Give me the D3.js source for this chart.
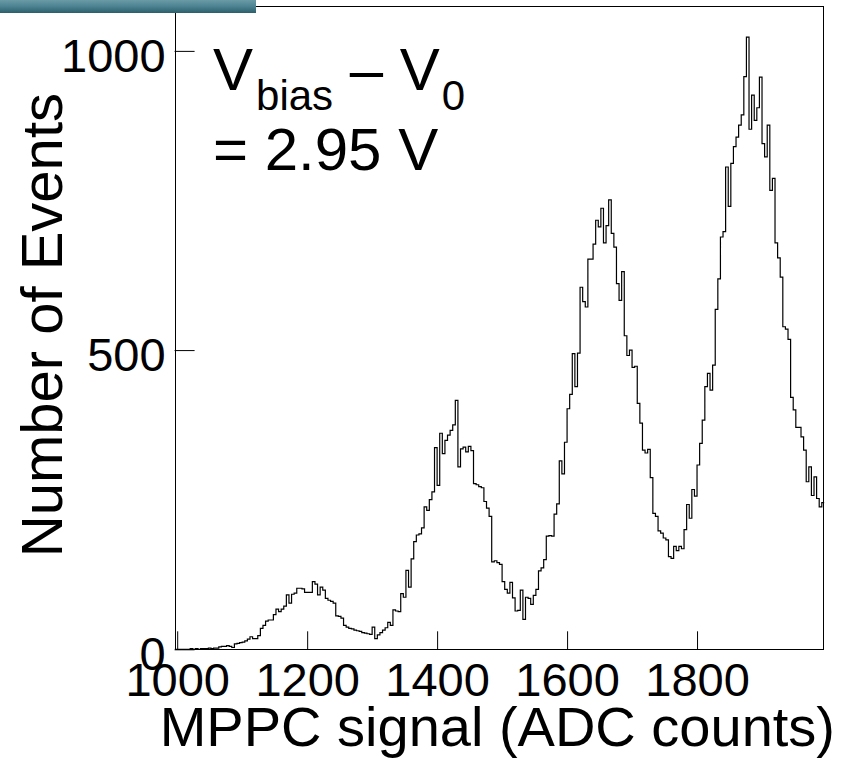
<!DOCTYPE html>
<html><head><meta charset="utf-8">
<script src="https://cdn.jsdelivr.net/npm/d3@7"></script>
<style>body{margin:0;background:#fff;} svg text{font-family:"Liberation Sans",Arial,Helvetica,sans-serif;fill:#000;}</style>
</head><body><svg id="c" width="851" height="769"></svg>
<script>
// ---- data ----
const binStart = 996;
const binWidth = 4;
const counts = [
  0,0,0,0,0,0,1,0,1,0, 1,1,1,2,1,2,2,4,5,5,
  6,5,3,9,10,11,12,14,17,21, 18,18,23,35,40,47,49,49,58,67,
  63,67,72,91,77,92,94,102,102,101, 95,95,95,113,109,91,104,99,85,82,
  80,77,56,55,52,40,37,35,34,32, 31,30,28,27,26,25,37,18,24,28,
  32,36,45,40,66,64,63,93,87,132, 104,151,180,191,193,203,238,232,250,263,
  337,274,361,327,349,358,366,375,416,305, 335,338,330,339,332,277,275,272,270,247,
  236,222,146,148,145,142,113,100,94,112, 86,64,65,99,50,87,85,75,90,100,
  131,136,150,189,190,189,226,243,315,293, 346,402,426,494,439,495,605,581,572,652,
  652,677,717,706,737,679,708,751,695,672, 611,583,631,524,491,500,471,473,411,378,
  333,328,334,287,227,222,198,194,186,183, 155,152,172,165,172,168,200,242,219,267,
  256,308,344,383,439,461,433,475,568,619, 689,698,806,740,812,840,856,876,893,957,
  1023,869,926,884,905,956,845,823,876,767, 787,679,654,622,539,535,518,421,400,371,
  371,355,333,280,305,257,288,252,238,245
];
const xTicks = [1000, 1200, 1400, 1600, 1800];
const yTicks = [0, 500, 1000];
const xDomain = [996, 1996];
const yDomain = [0, 1075];
const xTitle = "MPPC signal (ADC counts)";
const yTitle = "Number of Events";
const annVar = ["V", "bias", " \u2013 V", "0"];
const annValue = "= 2.95 V";

// ---- layout ----
const W = 851, H = 769;
const L = 174.6, R = 824.4, T = 6, B = 649.3;
const svg = d3.select("#c");
const x = d3.scaleLinear().domain(xDomain).range([L, R]);
const y = d3.scaleLinear().domain(yDomain).range([B, T]);

svg.append("rect").attr("width", W).attr("height", H).attr("fill", "#fff");

const defs = svg.append("defs");
defs.append("clipPath").attr("id", "clip").append("rect")
  .attr("x", L).attr("y", T).attr("width", R - L).attr("height", B - T);
const g = defs.append("linearGradient").attr("id", "bar").attr("x1", 0).attr("y1", 0).attr("x2", 0).attr("y2", 1);
g.append("stop").attr("offset", 0).attr("stop-color", "#6a9aa6");
g.append("stop").attr("offset", 0.45).attr("stop-color", "#4f8594");
g.append("stop").attr("offset", 1).attr("stop-color", "#2c5f6c");

// histogram
const pts = counts.map((c, i) => [binStart + i * binWidth, c]);
pts.push([binStart + counts.length * binWidth, counts[counts.length - 1]]);
const line = d3.line().x(d => x(d[0])).y(d => y(d[1])).curve(d3.curveStepAfter);
svg.append("path").datum(pts).attr("d", line)
  .attr("fill", "none").attr("stroke", "#000").attr("stroke-width", 1.2)
  .attr("clip-path", "url(#clip)");

// axes (ticks inside)
const gx = svg.append("g").attr("transform", `translate(0,${B})`)
  .call(d3.axisBottom(x).tickValues(xTicks).tickSize(-18).tickPadding(13).tickFormat(d3.format("d")));
gx.select(".domain").remove();
gx.selectAll("line").attr("stroke", "#000");
gx.selectAll("text").style("font-size", "47px").attr("fill", "#000");

const gy = svg.append("g").attr("transform", `translate(${L},0)`)
  .call(d3.axisLeft(y).tickValues(yTicks).tickSize(-20).tickPadding(9).tickFormat(d3.format("d")));
gy.select(".domain").remove();
gy.selectAll("line").attr("stroke", "#000");
gy.selectAll("text").style("font-size", "47px").attr("dy", "0.44em").attr("fill", "#000");

// frame
svg.append("rect").attr("x", 175.5).attr("y", 6.5).attr("width", 648).attr("height", 643)
  .attr("fill", "none").attr("stroke", "#000").attr("stroke-width", 1);

// top-left banner piece
svg.append("rect").attr("x", 0).attr("y", 0).attr("width", 256).attr("height", 13).attr("fill", "url(#bar)");

// titles
svg.append("text").attr("x", 835).attr("y", 746).attr("text-anchor", "end")
  .style("font-size", "56px").text(xTitle);
svg.append("text").attr("transform", "translate(62,93) rotate(-90)").attr("text-anchor", "end")
  .style("font-size", "58px").text(yTitle);

// annotation
const a = svg.append("text").attr("x", 213).attr("y", 90).style("font-size", "60px");
a.append("tspan").text(annVar[0]);
a.append("tspan").attr("dx", 3).attr("dy", 20).style("font-size", "42px").text(annVar[1]);
a.append("tspan").attr("dy", -20).text(annVar[2]);
a.append("tspan").attr("dx", 2).attr("dy", 20).style("font-size", "42px").text(annVar[3]);
svg.append("text").attr("x", 213).attr("y", 170).style("font-size", "60px").text(annValue);
</script></body></html>
